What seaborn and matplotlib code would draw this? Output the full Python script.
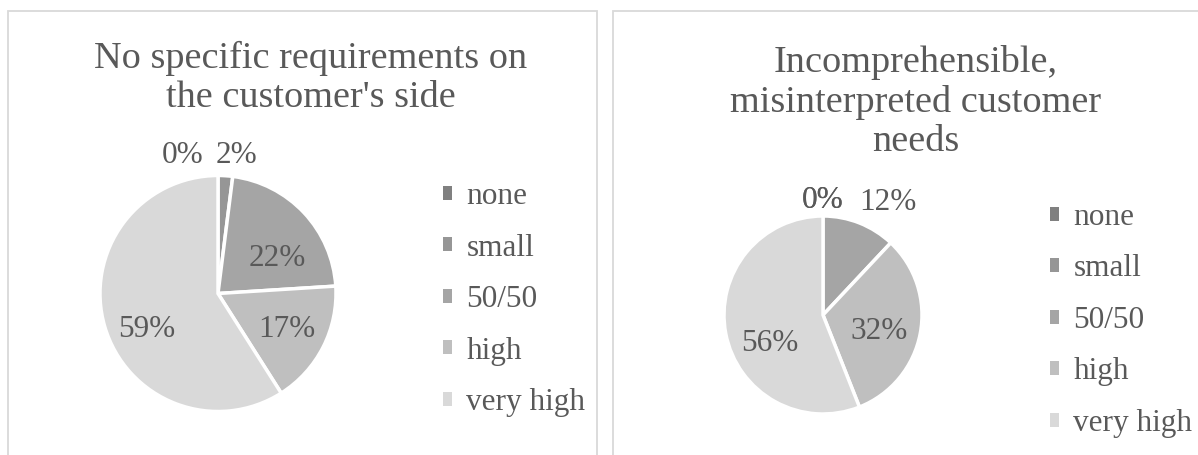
import numpy as np
import matplotlib
matplotlib.use("Agg")
import matplotlib.pyplot as plt
from matplotlib.patches import Patch, Rectangle
import seaborn as sns

# Survey answers: how strongly each cause contributes
categories = ["none", "small", "50/50", "high", "very high"]
share_requirements = [0, 2, 22, 17, 59]
share_needs = [0, 0, 12, 32, 56]
title_requirements = "No specific requirements on\nthe customer's side"
title_needs = "Incomprehensible,\nmisinterpreted customer\nneeds"

sns.set_theme(style="white")
plt.rcParams["font.family"] = ["Liberation Serif", "DejaVu Serif"]

palette = ["#808080", "#969696", "#a5a5a5", "#bfbfbf", "#d9d9d9"]
text_color = "#595959"
border_color = "#d9d9d9"

W, H = 1198, 455
fig = plt.figure(figsize=(W / 100, H / 100), dpi=100)
fig.patch.set_facecolor("white")


def fx(x):
    return x / W


def fy(y):
    return 1 - y / H


# panel frames
for x0, x1 in [(8, 597), (613, 1205)]:
    fig.add_artist(Rectangle((fx(x0), fy(470)), fx(x1 - x0), (470 - 11) / H,
                             transform=fig.transFigure, fill=False,
                             edgecolor=border_color, linewidth=1.3))


def draw_panel(values, title, cx, cy, r, title_xy, legend_xy, label_layout):
    pad = 1.05
    size = 2 * r * pad
    ax = fig.add_axes([fx(cx - size / 2), fy(cy + size / 2), size / W, size / H])
    wedges, _ = ax.pie(values, colors=palette, startangle=90, counterclock=False,
                       radius=1.0,
                       wedgeprops=dict(edgecolor="white", linewidth=2.5))
    ax.set_xlim(-pad, pad)
    ax.set_ylim(-pad, pad)
    ax.set_aspect("equal")
    ax.axis("off")

    # percentage labels placed relative to each wedge's middle angle
    for w, v, (shift, dist) in zip(wedges, values, label_layout):
        mid = 0.5 * (w.theta1 + w.theta2) - shift
        t = np.deg2rad(mid)
        ax.text(dist * np.cos(t), dist * np.sin(t) - 0.02, f"{v:.0f}%",
                ha="center", va="center", fontsize=22.5, color=text_color)

    fig.text(fx(title_xy[0]), fy(title_xy[1]), title, ha="center", va="center",
             fontsize=27.5, color=text_color, linespacing=1.17,
             multialignment="center")

    handles = [Patch(facecolor=c, edgecolor="none") for c in palette]
    leg = fig.legend(handles, categories, loc="upper left",
                     bbox_to_anchor=(fx(legend_xy[0]), fy(legend_xy[1])),
                     frameon=False, borderpad=0, borderaxespad=0,
                     handlelength=0.3, handleheight=0.3, handletextpad=0.45,
                     labelspacing=0.72, prop=dict(size=22.5))
    for txt in leg.get_texts():
        txt.set_color(text_color)


draw_panel(share_requirements, title_requirements, 218, 293.5, 118,
           (311, 78), (443, 182),
           [(-14, 1.23), (4, 1.2), (11, 0.59), (-1, 0.65), (-9, 0.67)])
draw_panel(share_needs, title_needs, 823, 315, 99,
           (916, 102), (1050, 203),
           [(0, 1.18), (0, 1.18), (8, 1.33), (4, 0.59), (-16, 0.6)])

fig.savefig("out.png", dpi=100, facecolor="white")
